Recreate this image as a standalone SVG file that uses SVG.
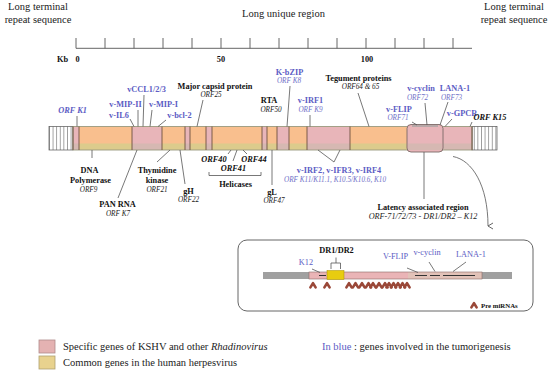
<svg xmlns="http://www.w3.org/2000/svg" width="550" height="377" viewBox="0 0 550 377">
<defs>
<style>
text{font-family:"Liberation Serif","Times New Roman",serif;}
.hd{font-size:10.5px;fill:#222}
.b{font-size:8.3px;font-weight:bold;fill:#111}
.bl{font-size:8.3px;font-weight:bold;fill:#5c5cc4}
.o{font-size:7.2px;font-style:italic;fill:#222}
.ob{font-size:7.2px;font-style:italic;fill:#7070c8}
.bi{font-size:8.3px;font-weight:bold;font-style:italic;fill:#111}
.bib{font-size:8.3px;font-weight:bold;font-style:italic;fill:#5c5cc4}
.ln{stroke:#555;stroke-width:0.8;fill:none}
.or{fill:#f9bf8e}
.orb{fill:#dccb8c}
.pk{fill:#e8b5b9}
.pkb{fill:#d6b8b2}
.dv{stroke:#6e5040;stroke-width:0.9}
.mi{stroke:#9a4838;stroke-width:2.6;fill:none;stroke-linejoin:round;stroke-linecap:round}
.ctr{text-anchor:middle}
</style>
<pattern id="hatch" width="3.6" height="30" patternUnits="userSpaceOnUse" x="49">
<rect width="3.6" height="30" fill="#fff"/>
<line x1="0.3" y1="0" x2="0.3" y2="30" stroke="#555" stroke-width="0.7"/>
</pattern>
<marker id="arr" markerWidth="8" markerHeight="8" refX="4" refY="6" orient="auto" markerUnits="userSpaceOnUse" viewBox="0 0 8 8">
<path d="M1,1 L4,6 L7,1" fill="none" stroke="#555" stroke-width="0.9"/>
</marker>
<path id="chev" d="M-2.6,2.4 L0,-1.8 L2.6,2.4" class="mi"/>
</defs>
<rect width="550" height="377" fill="#fff"/>

<g id="headers">
<text class="hd ctr" x="38" y="10">Long terminal</text>
<text class="hd ctr" x="38" y="23">repeat sequence</text>
<text class="hd ctr" x="283.5" y="17">Long unique region</text>
<text class="hd ctr" x="514" y="10">Long terminal</text>
<text class="hd ctr" x="514" y="23">repeat sequence</text>
</g>

<g id="ruler">
<line x1="76" y1="48.3" x2="472" y2="48.3" stroke="#555" stroke-width="0.9"/>
<path d="M76,38V48.3M105,38V48.3M134,38V48.3M163,38V48.3M192,38V48.3M221,38V48.3M250,38V48.3M279,38V48.3M308,38V48.3M337,38V48.3M366,38V48.3M395,38V48.3M424,38V48.3M453,38V48.3" stroke="#555" stroke-width="0.9"/>
<text class="b" x="57" y="62">Kb</text>
<text class="b ctr" x="77.5" y="62">0</text>
<text class="b ctr" x="221" y="62">50</text>
<text class="b ctr" x="367" y="62">100</text>
</g>

<g id="genome">
<rect x="49" y="126.5" width="24" height="23.5" fill="url(#hatch)" stroke="#555" stroke-width="0.7"/>
<rect x="472" y="126.5" width="25" height="23.5" fill="url(#hatch)" stroke="#555" stroke-width="0.7"/>
<g>
<rect class="pk" x="73" y="126.5" width="6" height="23.5"/>
<rect class="or" x="79" y="126.5" width="53" height="23.5"/>
<rect class="pk" x="132" y="126.5" width="30" height="23.5"/>
<rect class="or" x="162" y="126.5" width="23" height="23.5"/>
<rect class="pk" x="185" y="126.5" width="5" height="23.5"/>
<rect class="or" x="190" y="126.5" width="16" height="23.5"/>
<rect class="pk" x="206" y="126.5" width="6" height="23.5"/>
<rect class="or" x="212" y="126.5" width="50" height="23.5"/>
<rect class="pk" x="262" y="126.5" width="5" height="23.5"/>
<rect class="or" x="267" y="126.5" width="10" height="23.5"/>
<rect class="pk" x="277" y="126.5" width="12" height="23.5"/>
<rect class="or" x="289" y="126.5" width="18" height="23.5"/>
<rect class="pk" x="307" y="126.5" width="43" height="23.5"/>
<rect class="or" x="350" y="126.5" width="57" height="23.5"/>
<rect class="pk" x="443" y="126.5" width="29" height="23.5"/>
</g>
<g>
<rect class="pkb" x="73" y="143.5" width="6" height="6.5"/>
<rect class="orb" x="79" y="143.5" width="53" height="6.5"/>
<rect class="pkb" x="132" y="143.5" width="30" height="6.5"/>
<rect class="orb" x="162" y="143.5" width="23" height="6.5"/>
<rect class="pkb" x="185" y="143.5" width="5" height="6.5"/>
<rect class="orb" x="190" y="143.5" width="16" height="6.5"/>
<rect class="pkb" x="206" y="143.5" width="6" height="6.5"/>
<rect class="orb" x="212" y="143.5" width="50" height="6.5"/>
<rect class="pkb" x="262" y="143.5" width="5" height="6.5"/>
<rect class="orb" x="267" y="143.5" width="10" height="6.5"/>
<rect class="pkb" x="277" y="143.5" width="12" height="6.5"/>
<rect class="orb" x="289" y="143.5" width="18" height="6.5"/>
<rect class="pkb" x="307" y="143.5" width="43" height="6.5"/>
<rect class="orb" x="350" y="143.5" width="57" height="6.5"/>
<rect class="pkb" x="443" y="143.5" width="29" height="6.5"/>
</g>
<rect x="73" y="126.5" width="399" height="23.5" fill="none" stroke="#9a9a7e" stroke-width="0.9"/>
<path class="dv" d="M73,126.5V150M79,126.5V150M132,126.5V150M162,126.5V150M185,126.5V150M190,126.5V150M206,126.5V150M212,126.5V150M262,126.5V150M267,126.5V150M277,126.5V150M289,126.5V150M307,126.5V150M350,126.5V150M472,126.5V150"/>
<g id="latency-box">
<rect x="407" y="124.5" width="36" height="27.5" rx="4" fill="#e8b5b9" stroke="#7a6a66" stroke-width="0.9"/>
<rect x="408" y="143.5" width="34" height="6.5" class="pkb"/>
<rect x="412" y="125" width="26" height="2" fill="#b8a8a8"/>
</g>
</g>

<g id="connectors">
<line class="ln" x1="77" y1="116" x2="77" y2="126.5"/>
<line class="ln" x1="130" y1="119" x2="134" y2="126.5"/>
<line class="ln" x1="138" y1="110" x2="138" y2="126.5"/>
<line class="ln" x1="144" y1="95" x2="143" y2="126.5"/>
<line class="ln" x1="152" y1="110" x2="150" y2="126.5"/>
<line class="ln" x1="166" y1="120" x2="158" y2="126.5"/>
<line class="ln" x1="203" y1="100" x2="197" y2="126.5"/>
<line class="ln" x1="290" y1="86" x2="287" y2="126.5"/>
<line class="ln" x1="310" y1="115" x2="310" y2="126.5"/>
<line class="ln" x1="358" y1="93" x2="369" y2="126.5"/>
<line class="ln" x1="412" y1="122" x2="417" y2="125"/>
<line class="ln" x1="425" y1="103" x2="427" y2="125"/>
<line class="ln" x1="448" y1="102" x2="440" y2="125"/>
<line class="ln" x1="452" y1="119" x2="445" y2="126.5"/>
<line class="ln" x1="472" y1="122" x2="470" y2="126.5"/>
<line class="ln" x1="92" y1="150" x2="92" y2="158"/>
<line class="ln" x1="137" y1="150" x2="118" y2="198"/>
<line class="ln" x1="170" y1="150" x2="157" y2="162"/>
<line class="ln" x1="180" y1="150" x2="185" y2="184"/>
<line class="ln" x1="228" y1="154" x2="231" y2="150"/>
<line class="ln" x1="233" y1="161" x2="237" y2="150"/>
<line class="ln" x1="247" y1="154" x2="243" y2="150"/>
<path class="ln" d="M209,172V175.5H261V172"/>
<line class="ln" x1="272" y1="150" x2="272" y2="185"/>
<path class="ln" d="M318,150L334,162L340,150"/>
<line class="ln" x1="424" y1="152" x2="424" y2="199"/>
<path class="ln" d="M453,156.5C472,160 488,185 488,226" marker-end="url(#arr)"/>
</g>

<g id="labels-top">
<text class="bib ctr" x="72.5" y="113">ORF K1</text>
<text class="bl ctr" x="146.5" y="92">vCCL1/2/3</text>
<text class="bl ctr" x="125.5" y="107">v-MIP-II</text>
<text class="bl ctr" x="163.5" y="107">v-MIP-I</text>
<text class="bl ctr" x="119" y="118">v-IL6</text>
<text class="bl ctr" x="179.5" y="118">v-bcl-2</text>
<text class="b ctr" x="215" y="89">Major capsid protein</text>
<text class="o ctr" x="211" y="97">ORF25</text>
<text class="b ctr" x="269" y="103">RTA</text>
<text class="o ctr" x="271" y="112">ORF50</text>
<text class="bl ctr" x="289.5" y="75">K-bZIP</text>
<text class="ob ctr" x="289" y="83">ORF K8</text>
<text class="bl ctr" x="310.5" y="103">v-IRF1</text>
<text class="ob ctr" x="310.5" y="112">ORF K9</text>
<text class="b ctr" x="358.5" y="81">Tegument proteins</text>
<text class="o ctr" x="360.5" y="89">ORF64 &amp; 65</text>
<text class="bl ctr" x="421" y="91">v-cyclin</text>
<text class="ob ctr" x="417.5" y="100">ORF72</text>
<text class="bl ctr" x="455" y="91">LANA-1</text>
<text class="ob ctr" x="451.5" y="100">ORF73</text>
<text class="bl ctr" x="399" y="112">v-FLIP</text>
<text class="ob ctr" x="398" y="120">ORF71</text>
<text class="bl ctr" x="462" y="116">v-GPCR</text>
<text class="bi ctr" x="490" y="120">ORF K15</text>
</g>

<g id="labels-bottom">
<text class="b ctr" x="89.5" y="173">DNA</text>
<text class="b ctr" x="90.5" y="183">Polymerase</text>
<text class="o ctr" x="88.5" y="192">ORF9</text>
<text class="b ctr" x="117.5" y="207">PAN RNA</text>
<text class="o ctr" x="118" y="216">ORF K7</text>
<text class="b ctr" x="157" y="173">Thymidine</text>
<text class="b ctr" x="157" y="183">kinase</text>
<text class="o ctr" x="157" y="192">ORF21</text>
<text class="b ctr" x="188.5" y="194">gH</text>
<text class="o ctr" x="188.5" y="202">ORF22</text>
<text class="bi ctr" x="214" y="162">ORF40</text>
<text class="bi ctr" x="254" y="162">ORF44</text>
<text class="bi ctr" x="233.5" y="171">ORF41</text>
<text class="b ctr" x="235.5" y="187">Helicases</text>
<text class="b ctr" x="272" y="195">gL</text>
<text class="o ctr" x="274" y="203">ORF47</text>
<text class="bl ctr" x="339" y="173">v-IRF2, v-IFR3, v-IRF4</text>
<text class="ob ctr" x="335" y="182">ORF K11/K11.1, K10.5/K10.6, K10</text>
<text class="b ctr" x="423" y="210">Latency associated region</text>
<text class="o ctr" x="423" y="219" style="font-size:8.2px">ORF-71/72/73 - DR1/DR2 – K12</text>
</g>

<g id="inset">
<rect x="238" y="240" width="295" height="71" rx="9" fill="#fff" stroke="#555" stroke-width="0.9"/>
<rect x="263" y="272" width="249" height="7" fill="#a0a0a0"/>
<rect x="309" y="272" width="99" height="7" fill="#eab4b6"/>
<rect x="408" y="272" width="74" height="7" fill="#e2c2b8"/>
<rect x="309" y="272" width="173" height="7" fill="none" stroke="#8a6a66" stroke-width="0.6"/>
<rect x="327" y="270.5" width="17" height="9" fill="#e8cc10" stroke="#a89000" stroke-width="0.5"/>
<path d="M319,275.5H326M415,275.5H427M430,275.5H440M443,275.5H475" stroke="#333" stroke-width="1"/>
<text class="b ctr" x="336.5" y="253">DR1/DR2</text>
<path class="ln" d="M336,257.5V263M331,269V263H340.5V269"/>
<text class="bl ctr" x="306" y="265" style="font-weight:normal">K12</text>
<line class="ln" x1="312" y1="269" x2="320" y2="272.5"/>
<text class="bl ctr" x="395.5" y="259" style="font-weight:normal">V-FLIP</text>
<line class="ln" x1="407" y1="268" x2="418" y2="272.5"/>
<text class="bl ctr" x="427" y="255" style="font-weight:normal">v-cyclin</text>
<line class="ln" x1="429" y1="262" x2="435" y2="271.5"/>
<text class="bl ctr" x="471" y="257" style="font-weight:normal">LANA-1</text>
<line class="ln" x1="466" y1="262" x2="453" y2="271.5"/>
<g id="pre-mirnas">
<use href="#chev" x="313" y="285"/>
<use href="#chev" x="327" y="285"/>
<use href="#chev" x="349" y="285"/>
<use href="#chev" x="355.5" y="285"/>
<use href="#chev" x="362" y="285"/>
<use href="#chev" x="368.5" y="285"/>
<use href="#chev" x="373" y="285"/>
<use href="#chev" x="379" y="285"/>
<use href="#chev" x="385" y="285"/>
<use href="#chev" x="389" y="285"/>
<use href="#chev" x="393.5" y="285"/>
<use href="#chev" x="398" y="285"/>
<use href="#chev" x="402.5" y="285"/>
<use href="#chev" x="407" y="285"/>
<use href="#chev" x="474" y="305"/>
<text class="b" x="481" y="308" style="font-size:6.8px">Pre miRNAs</text>
</g>
</g>

<g id="legend">
<rect x="39" y="340" width="16" height="13" fill="#e4b2b2" stroke="#b08a8a" stroke-width="0.8"/>
<rect x="39" y="356" width="16" height="13" fill="#e8d28e" stroke="#b0a070" stroke-width="0.8"/>
<text class="hd" x="63" y="350">Specific genes of KSHV and other <tspan font-style="italic">Rhadinovirus</tspan></text>
<text class="hd" x="63" y="366">Common genes in the human herpesvirus</text>
<text class="hd" x="322" y="350"><tspan fill="#5c5cc4">In blue</tspan> : genes involved in the tumorigenesis</text>
</g>
</svg>
